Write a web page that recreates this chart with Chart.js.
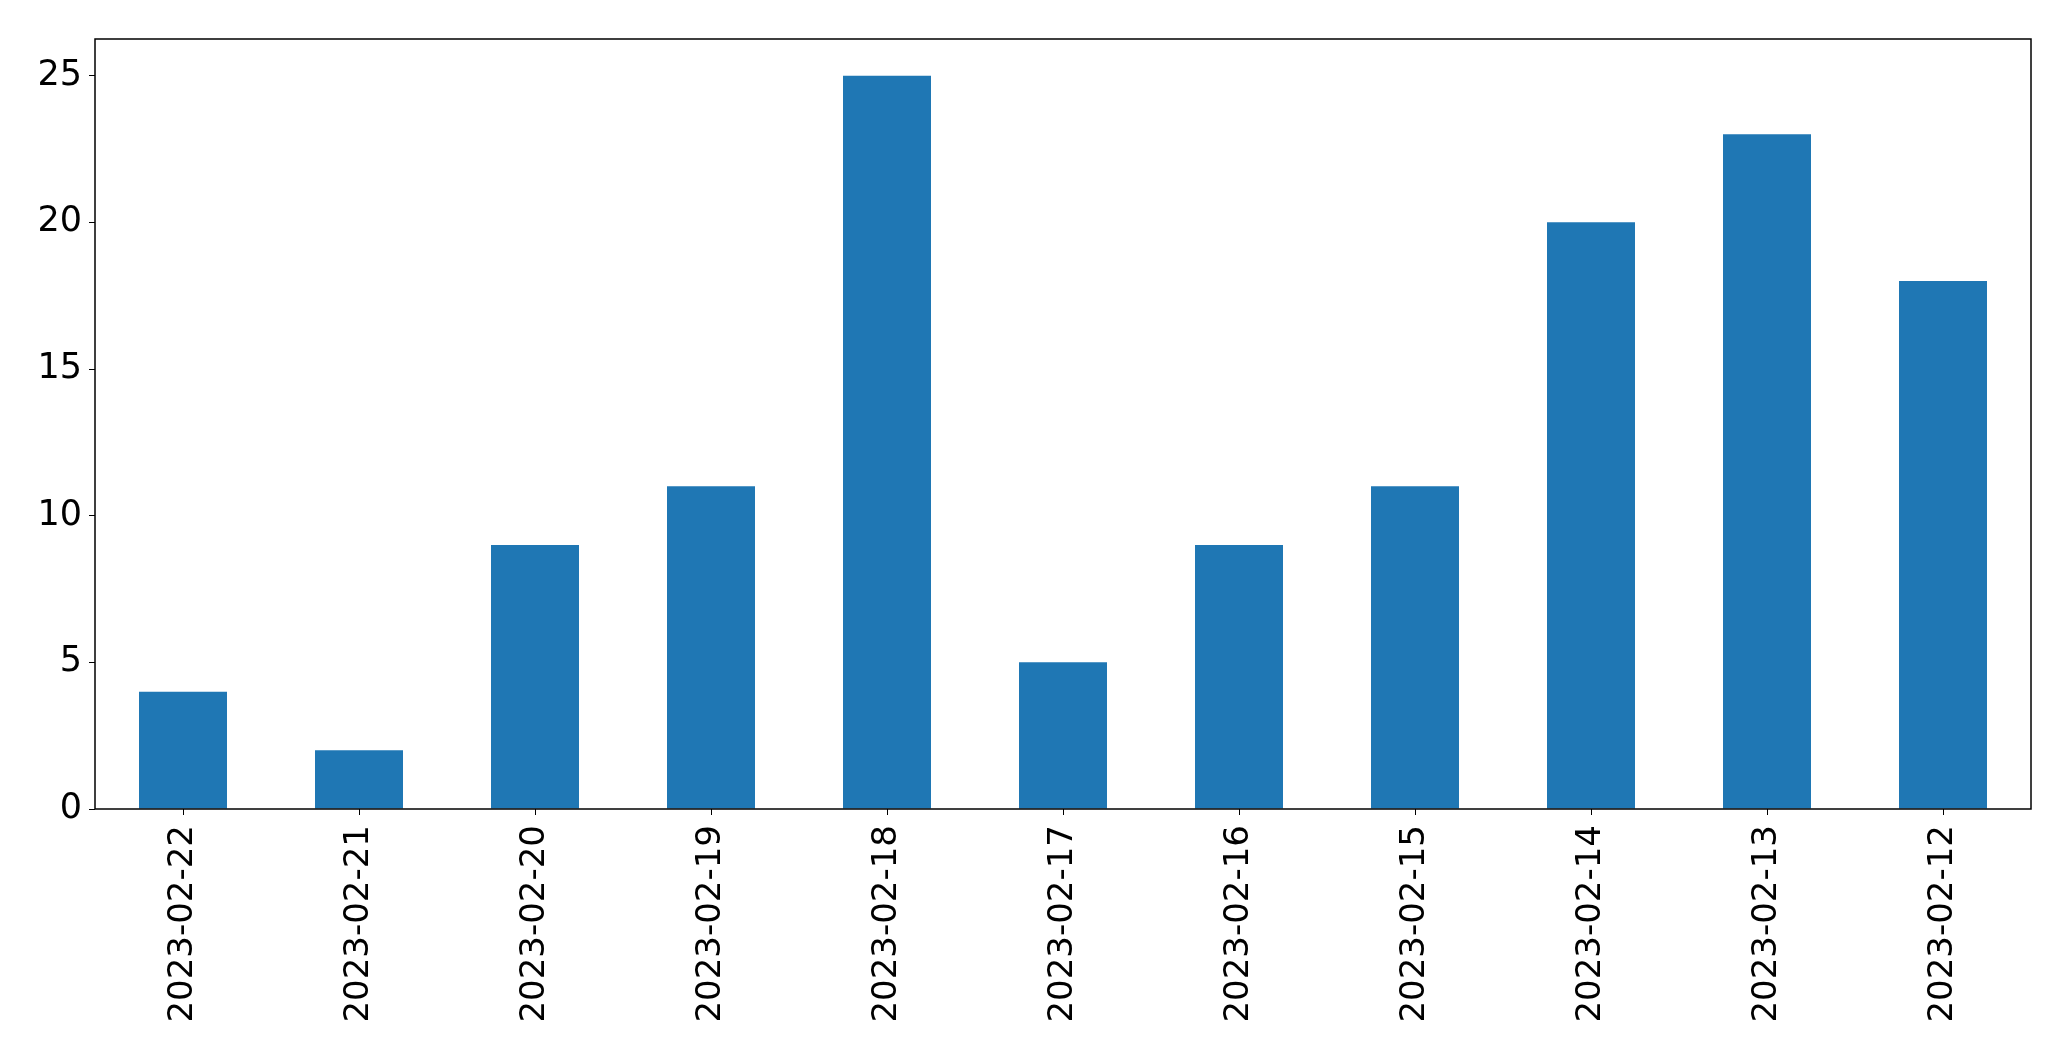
<!DOCTYPE html>
<html>
<head>
<meta charset="utf-8">
<script src="https://cdn.jsdelivr.net/npm/chart.js@4"></script>
<style>
  html, body { margin: 0; padding: 0; background: #fff; }
  #wrap { width: 2071px; height: 1061px; }
</style>
</head>
<body>
<div id="wrap"><canvas id="barChart" width="2071" height="1061"></canvas></div>
<script>
// categories and counts
const dates = ['2023-02-22', '2023-02-21', '2023-02-20', '2023-02-19', '2023-02-18', '2023-02-17',
               '2023-02-16', '2023-02-15', '2023-02-14', '2023-02-13', '2023-02-12'];
const counts = [4, 2, 9, 11, 25, 5, 9, 11, 20, 23, 18];
const yTicks = [0, 5, 10, 15, 20, 25];

// frame around plot area (matplotlib style box)
const frameBox = {
    id: 'frameBox',
    afterDraw(chart) {
        const { ctx, chartArea: a } = chart;
        ctx.save();
        ctx.strokeStyle = '#000';
        ctx.lineWidth = 1.5;
        ctx.strokeRect(a.left, a.top, a.right - a.left, a.bottom - a.top);
        ctx.restore();
    }
};

const ctx = document.getElementById('barChart').getContext('2d');
new Chart(ctx, {
    type: 'bar',
    data: {
        labels: dates,
        datasets: [{
            data: counts,
            backgroundColor: '#1f77b4',
            borderWidth: 0,
            barPercentage: 0.5,
            categoryPercentage: 1.0
        }]
    },
    options: {
        responsive: false,
        animation: false,
        layout: { padding: { top: 39, right: 40, left: 0, bottom: 0 } },
        plugins: { legend: { display: false }, tooltip: { enabled: false } },
        scales: {
            x: {
                offset: true,
                grid: { display: true, drawOnChartArea: false, drawTicks: true, tickLength: 6, color: '#000', offset: false },
                border: { display: false },
                ticks: {
                    color: '#000',
                    font: { family: 'DejaVu Sans', size: 34 },
                    minRotation: 90,
                    maxRotation: 90,
                    autoSkip: false,
                    padding: 10
                },
                afterFit: (s) => { s.height = 252; }
            },
            y: {
                min: 0,
                max: 26.25,
                grid: { display: true, drawOnChartArea: false, drawTicks: true, tickLength: 6, color: '#000' },
                border: { display: false },
                ticks: {
                    color: '#000',
                    font: { family: 'DejaVu Sans', size: 35 },
                    padding: 7
                },
                afterBuildTicks: (s) => { s.ticks = yTicks.map(v => ({ value: v })); },
                afterFit: (s) => { s.width = 95; }
            }
        }
    },
    plugins: [frameBox]
});
</script>
</body>
</html>
